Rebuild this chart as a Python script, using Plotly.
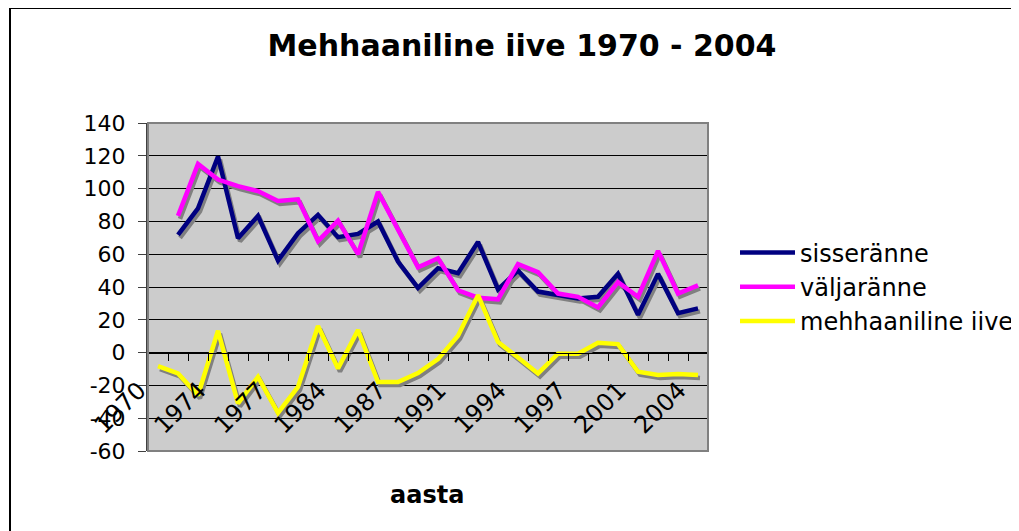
import plotly.graph_objects as go

# ---- data ----
category_index = list(range(1, 29))  # 28 categories along the x axis
tick_labels = ["1970", "1974", "1977", "1984", "1987", "1991", "1994", "1997", "2001", "2004"]
series_names = ["sisseränne", "väljaränne", "mehhaaniline iive"]
sisseranne = [None, 71.8, 88, 119.6, 69.7, 83.4, 56.1, 72.8, 84, 70.4, 72.4, 79.9, 55.5, 39.5,
              51.5, 48.4, 67.5, 38.5, 50, 37.2, 35, 33, 34, 48, 23, 48, 24, 27]
valjaranne = [None, 83.4, 115, 105.5, 101.5, 98.5, 92.5, 93.5, 68, 80.5, 60, 98, 75, 52,
              57.5, 38, 33.5, 32.5, 54, 49, 36, 34, 27.5, 43, 34, 62, 36, 41]
mehh_iive = [-8.2, -12.7, -26, 13.3, -31, -14.8, -36.8, -20.9, 16.2, -9.7, 13.7, -18, -18, -12.5,
             -4, 10.3, 35, 6.5, -3, -12.7, -0.7, -0.7, 6, 5.2, -11.7, -13.7, -13, -13.7]
y_ticks = [-60, -40, -20, 0, 20, 40, 60, 80, 100, 120, 140]
y_tick_labels = ["-60", "-40", "-20", "0", "20", "40", "60", "80", "100", "120", "140"]
y_range = [-60, 140]

# ---- styling ----
colors = ["#000080", "#FF00FF", "#FFFF00"]
FONT = "DejaVu Sans"
FS = 24
OFF = 8  # default page body margin
W, H = 1019 - OFF, 531 - OFF
ml, mt = 148 - OFF, 123 - OFF
plot_w, plot_h = 560, 328
mr, mb = W - ml - plot_w, H - mt - plot_h
x_range = [0.5, len(category_index) + 0.5]


def px_x(xw):  # window x -> paper fraction
    return (xw - OFF - ml) / plot_w


def px_y(yw):  # window y -> paper fraction
    return (mt + plot_h - (yw - OFF)) / plot_h


# shadow offset (px) converted into axis-range shifts
sh_dx, sh_dy = 2, 3
ux = (x_range[1] - x_range[0]) / plot_w
uy = (y_range[1] - y_range[0]) / plot_h
x_range_sh = [x_range[0] - sh_dx * ux, x_range[1] - sh_dx * ux]
y_range_sh = [y_range[0] + sh_dy * uy, y_range[1] + sh_dy * uy]

fig = go.Figure()
all_series = [sisseranne, valjaranne, mehh_iive]

# shadows on the (hidden) base subplot
for vals in all_series:
    fig.add_trace(go.Scatter(x=category_index, y=vals, mode="lines",
                             line=dict(color="#808080", width=4.5),
                             xaxis="x", yaxis="y", showlegend=False, hoverinfo="skip"))
# main lines on the visible overlay axes
for i, (name, vals) in enumerate(zip(series_names, all_series)):
    fig.add_trace(go.Scatter(x=category_index, y=vals, mode="lines", name=name,
                             line=dict(color=colors[i], width=4.5),
                             xaxis="x2", yaxis="y2", legendgroup=name))

# tick values at category boundaries, label every third boundary
tickvals = [x_range[0] + k for k in range(len(category_index) + 1)]
ticktext = [tick_labels[k // 3] if (k % 3 == 0 and k // 3 < len(tick_labels)) else "" for k in range(len(tickvals))]

zero_pos = (0 - y_range[0]) / (y_range[1] - y_range[0])

fig.update_layout(
    width=W, height=H,
    margin=dict(l=ml, r=mr, t=mt, b=mb, pad=0, autoexpand=False),
    paper_bgcolor="white",
    plot_bgcolor="#CCCCCC",
    font=dict(family=FONT, size=FS, color="black"),
    title=dict(text="<b>Mehhaaniline iive 1970 - 2004</b>", font=dict(family=FONT, size=30, color="black"),
               x=(522 - OFF) / W, xref="container", xanchor="center", y=1 - (45 - OFF) / H,
               yref="container", yanchor="middle"),
    xaxis=dict(range=x_range_sh, visible=False),
    yaxis=dict(range=y_range_sh, visible=False),
    xaxis2=dict(range=x_range, overlaying="x", tickmode="array", tickvals=tickvals, ticktext=ticktext,
                tickangle=-45, ticks="outside", ticklen=7, tickcolor="#000000",
                showline=True, linecolor="#000000", linewidth=1, showgrid=False, zeroline=False,
                anchor="free", position=zero_pos, side="bottom", tickfont=dict(size=FS, family=FONT),
                ticklabelshift=-9, ticklabelstandoff=6, automargin=False),
    yaxis2=dict(range=y_range, overlaying="y", side="left", tickmode="array", tickvals=y_ticks,
                ticktext=y_tick_labels, ticks="outside", ticklen=8,
                tickcolor="#404040", showline=True, linecolor="#404040", linewidth=2, showgrid=True,
                gridcolor="#000000", gridwidth=1, zeroline=False, tickfont=dict(size=22, family=FONT),
                ticklabelstandoff=8, automargin=False),
    legend=dict(x=px_x(735), xanchor="left", y=px_y(287), yanchor="middle", itemwidth=55,
                font=dict(size=FS, family=FONT), bgcolor="rgba(0,0,0,0)", tracegroupgap=0),
    showlegend=True,
)

# plot-area border
fig.add_shape(type="rect", xref="paper", yref="paper", x0=0, x1=1, y0=0, y1=1,
              line=dict(color="#808080", width=2), layer="above")
# chart outer border
fig.add_shape(type="rect", xref="paper", yref="paper",
              x0=px_x(10), x1=px_x(1040), y0=px_y(560), y1=px_y(8),
              line=dict(color="#000000", width=2))

fig.add_annotation(text="<b>aasta</b>", xref="paper", yref="paper", x=px_x(427),
                   y=px_y(495), xanchor="center", yanchor="middle", showarrow=False,
                   font=dict(size=FS, family=FONT, color="black"))

fig.write_html("out.html")
